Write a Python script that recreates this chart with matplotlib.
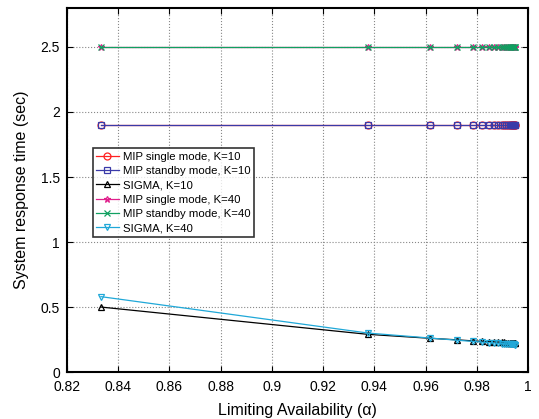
import matplotlib
matplotlib.use("Agg")
import matplotlib.pyplot as plt

plt.rcParams['font.family'] = ['Liberation Sans', 'DejaVu Sans']

availability = [0.8333, 0.9375, 0.9615, 0.9722, 0.9783, 0.9821, 0.9848, 0.9868,
                0.9884, 0.9896, 0.9906, 0.9914, 0.9921, 0.9927, 0.9932, 0.9937,
                0.9941, 0.9944, 0.9947, 0.9949]
mip_single_k10 = [1.9] * 20
mip_standby_k10 = [1.9] * 20
sigma_k10 = [0.50, 0.29, 0.26, 0.248, 0.240, 0.236, 0.233, 0.231, 0.230, 0.229,
             0.228, 0.227, 0.227, 0.226, 0.226, 0.225, 0.225, 0.225, 0.224, 0.224]
mip_single_k40 = [2.5] * 20
mip_standby_k40 = [2.5] * 20
sigma_k40 = [0.58, 0.30, 0.262, 0.245, 0.236, 0.230, 0.226, 0.223, 0.221, 0.219,
             0.218, 0.217, 0.216, 0.215, 0.214, 0.214, 0.213, 0.213, 0.212, 0.212]

labels = ["MIP single mode, K=10", "MIP standby mode, K=10", "SIGMA, K=10",
          "MIP single mode, K=40", "MIP standby mode, K=40", "SIGMA, K=40"]
series = [mip_single_k10, mip_standby_k10, sigma_k10,
          mip_single_k40, mip_standby_k40, sigma_k40]
colors = ['#ff2020', '#3a3aa8', '#000000', '#e0208c', '#10a060', '#20a8d8']
markers = ['o', 's', '^', '*', 'x', 'v']

fig = plt.figure(figsize=(5.39, 4.19), dpi=100)
ax = fig.add_axes([0.124, 0.112, 0.856, 0.869])

for ys, lab, c, m in zip(series, labels, colors, markers):
    ax.plot(availability, ys, color=c, marker=m, markersize=5, markerfacecolor='none',
            markeredgewidth=0.9, linewidth=0.9, label=lab)

ax.set_xlim(0.82, 1.0)
ax.set_ylim(0, 2.8)
ax.set_xticks([0.82, 0.84, 0.86, 0.88, 0.9, 0.92, 0.94, 0.96, 0.98, 1.0])
ax.set_xticklabels(['0.82', '0.84', '0.86', '0.88', '0.9', '0.92', '0.94', '0.96', '0.98', '1'])
ax.set_yticks([0, 0.5, 1, 1.5, 2, 2.5])
ax.set_yticklabels(['0', '0.5', '1', '1.5', '2', '2.5'])
ax.grid(True, linestyle=':', color='#888888', linewidth=0.8)
ax.tick_params(labelsize=10, direction='in', length=4, top=True, right=True)
ax.tick_params(axis='x', pad=6)
ax.tick_params(axis='y', pad=5)
for s in ax.spines.values():
    s.set_linewidth(1.5)
ax.set_xlabel('Limiting Availability (α)', fontsize=11.5, labelpad=6)
ax.set_ylabel('System response time (sec)', fontsize=11.5, labelpad=8)

leg = ax.legend(loc='upper left', bbox_to_anchor=(0.056, 0.615), fontsize=8.2,
                frameon=True, fancybox=False, edgecolor='black', borderpad=0.3,
                labelspacing=0.38, handlelength=2.0, handletextpad=0.4, borderaxespad=0)
leg.get_frame().set_linewidth(1.2)

fig.savefig('out.png', dpi=100)
